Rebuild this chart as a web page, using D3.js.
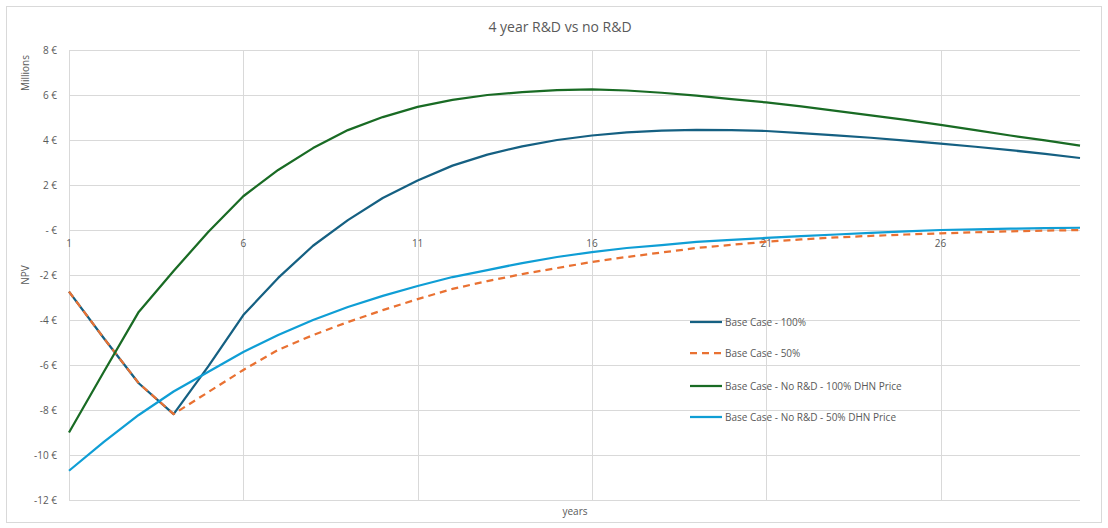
<!DOCTYPE html>
<html>
<head>
<meta charset="utf-8">
<script src="https://cdn.jsdelivr.net/npm/d3@7.9.0/dist/d3.min.js"></script>
<style>
  body { margin: 0; background: #fff; }
  svg text { font-family: "Open Sans", sans-serif; fill: #595959; }
</style>
</head>
<body>
<svg id="chart" width="1108" height="528"></svg>
<script>
const years = d3.range(1, 31);
const xTickLabels = [1, 6, 11, 16, 21, 26];
const yTicks = [8, 6, 4, 2, 0, -2, -4, -6, -8, -10, -12];

const base100 = [-2.74, -4.81, -6.81, -8.18, -6.05, -3.78, -2.13, -0.7, 0.44, 1.42,
  2.2, 2.86, 3.35, 3.72, 4.0, 4.2, 4.34, 4.42, 4.45, 4.44,
  4.4, 4.31, 4.21, 4.1, 3.97, 3.84, 3.7, 3.55, 3.38, 3.2];
const base50 = [-2.74, -4.81, -6.81, -8.18, -7.2, -6.22, -5.33, -4.67, -4.09, -3.56,
  -3.07, -2.62, -2.27, -1.96, -1.69, -1.42, -1.2, -1.0, -0.8, -0.66,
  -0.52, -0.42, -0.33, -0.26, -0.2, -0.15, -0.1, -0.06, -0.03, 0.0];
const noRD100 = [-9.0, -6.3, -3.64, -1.82, -0.08, 1.5, 2.67, 3.64, 4.44, 5.02,
  5.47, 5.78, 6.0, 6.13, 6.22, 6.25, 6.2, 6.1, 5.97, 5.82,
  5.67, 5.49, 5.29, 5.09, 4.89, 4.67, 4.44, 4.2, 3.98, 3.75];
const noRD50 = [-10.7, -9.42, -8.22, -7.18, -6.3, -5.42, -4.67, -4.0, -3.42, -2.93,
  -2.49, -2.09, -1.78, -1.47, -1.2, -0.98, -0.8, -0.67, -0.53, -0.44,
  -0.35, -0.27, -0.2, -0.13, -0.06, 0.0, 0.03, 0.06, 0.08, 0.1];

const series = [
  { name: 'Base Case - 100%', values: base100, color: '#156082', dash: null },
  { name: 'Base Case - 50%', values: base50, color: '#E97132', dash: '7,5' },
  { name: 'Base Case - No R&D - 100% DHN Price', values: noRD100, color: '#196B24', dash: null },
  { name: 'Base Case - No R&D - 50% DHN Price', values: noRD50, color: '#0F9ED5', dash: null }
];

const svg = d3.select('#chart');
const plotL = 69, plotR = 1080, plotT = 50, plotB = 500;

// chart border
svg.append('rect')
  .attr('x', 6.5).attr('y', 6.5)
  .attr('width', 1095).attr('height', 516)
  .attr('fill', 'none').attr('stroke', '#d9d9d9');

const x = d3.scaleLinear().domain([1, 30]).range([plotL, plotR]);
const y = d3.scaleLinear().domain([-12, 8]).range([plotB, plotT]);

const fmt = v => v === 0 ? '- €' : `${v} €`;

// horizontal grid
svg.append('g')
  .selectAll('line')
  .data(yTicks)
  .join('line')
    .attr('x1', plotL).attr('x2', plotR)
    .attr('y1', d => Math.round(y(d)) + 0.5).attr('y2', d => Math.round(y(d)) + 0.5)
    .attr('stroke', '#d9d9d9');

// vertical grid
svg.append('g')
  .selectAll('line')
  .data(xTickLabels)
  .join('line')
    .attr('x1', d => Math.round(x(d)) + 0.5).attr('x2', d => Math.round(x(d)) + 0.5)
    .attr('y1', plotT).attr('y2', plotB)
    .attr('stroke', '#d9d9d9');

// y labels
svg.append('g')
  .selectAll('text')
  .data(yTicks)
  .join('text')
    .attr('x', 57)
    .attr('y', d => y(d) + 3.5)
    .attr('text-anchor', 'end')
    .attr('font-size', 10)
    .text(fmt);

// x labels
svg.append('g')
  .selectAll('text')
  .data(xTickLabels)
  .join('text')
    .attr('x', d => x(d))
    .attr('y', y(0) + 17)
    .attr('text-anchor', 'middle')
    .attr('font-size', 10)
    .text(d => d);

// lines (straight segments between yearly points)
const line = d3.line()
  .x((d, i) => x(years[i]))
  .y(d => y(d));

svg.append('g')
  .selectAll('path')
  .data(series)
  .join('path')
    .attr('d', d => line(d.values))
    .attr('fill', 'none')
    .attr('stroke', d => d.color)
    .attr('stroke-width', 2.25)
    .attr('stroke-linejoin', 'round')
    .attr('stroke-dasharray', d => d.dash);

// legend
const legend = svg.append('g');
const legendY = [322, 353, 386, 417];
series.forEach((s, i) => {
  legend.append('line')
    .attr('x1', 690).attr('x2', 722)
    .attr('y1', legendY[i]).attr('y2', legendY[i])
    .attr('stroke', s.color)
    .attr('stroke-width', 2.25)
    .attr('stroke-dasharray', s.dash);
  legend.append('text')
    .attr('x', 725).attr('y', legendY[i] + 3.5)
    .attr('font-size', 10)
    .text(s.name);
});

// titles
svg.append('text')
  .attr('x', 560).attr('y', 32)
  .attr('text-anchor', 'middle')
  .attr('font-size', 14)
  .text('4 year R&D vs no R&D');

svg.append('text')
  .attr('transform', 'translate(29,73) rotate(-90)')
  .attr('text-anchor', 'middle')
  .attr('font-size', 10)
  .text('Millions');

svg.append('text')
  .attr('transform', `translate(29,${(plotT + plotB) / 2}) rotate(-90)`)
  .attr('text-anchor', 'middle')
  .attr('font-size', 10)
  .text('NPV');

svg.append('text')
  .attr('x', 575).attr('y', 515)
  .attr('text-anchor', 'middle')
  .attr('font-size', 10)
  .text('years');
</script>
</body>
</html>
